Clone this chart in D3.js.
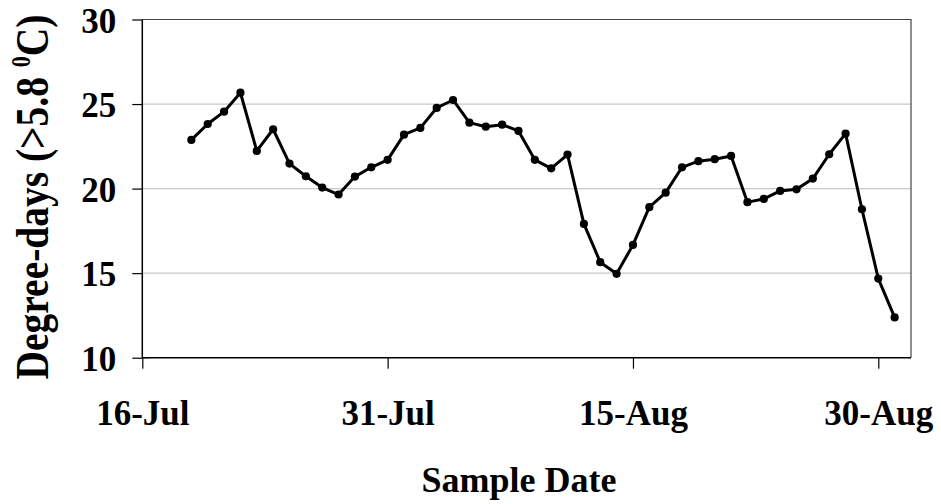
<!DOCTYPE html>
<html>
<head>
<meta charset="utf-8">
<script src="https://cdn.jsdelivr.net/npm/d3@7"></script>
<style>
	body { margin: 0; background: #fff; }
	svg text { font-family: "Liberation Serif", "Times New Roman", serif; font-weight: bold; fill: #000; }
</style>
</head>
<body>
<div id="chart"></div>
<script>
// Data: daily degree-days from 19-Jul to 31-Aug
const firstDate = new Date(2008, 6, 19);
const lastDate = new Date(2008, 8, 1); // exclusive
const degreeDays = [
	22.88, 23.82, 24.55, 25.67, 22.23, 23.51, 21.48, 20.73, 20.06, 19.65,
	20.71, 21.26, 21.70, 23.19, 23.59, 24.77, 25.24, 23.90, 23.66, 23.78,
	23.41, 21.70, 21.20, 22.01, 17.91, 15.65, 14.96, 16.67, 18.90, 19.76,
	21.26, 21.62, 21.74, 21.93, 19.20, 19.39, 19.86, 19.96, 20.59, 22.03,
	23.25, 18.78, 14.68, 12.38
];
const xTickDates = [new Date(2008, 6, 16), new Date(2008, 6, 31), new Date(2008, 7, 15), new Date(2008, 7, 30)];
const yTicks = [10, 15, 20, 25, 30];
const xDomain = [new Date(2008, 6, 16), new Date(2008, 8, 1)];
const yDomain = [10, 30];

const dates = d3.timeDay.range(firstDate, lastDate);
const data = dates.map((d, i) => [d, degreeDays[i]]);

// Size
const width = 941, height = 504;
const margin = { top: 19.5, right: 30, bottom: 146.3, left: 142.3 };
const plotW = width - margin.left - margin.right,
	plotH = height - margin.top - margin.bottom;

const svg = d3.select("#chart").append("svg")
	.attr("width", width).attr("height", height);

const scaleX = d3.scaleTime(xDomain, [0, plotW]);
const scaleY = d3.scaleLinear(yDomain, [plotH, 0]);

const chart = svg.append("g")
	.attr("transform", `translate(${margin.left}, ${margin.top})`);

// Gridlines
chart.append("g")
	.selectAll("line")
	.data(yTicks.filter(t => t > 10 && t < 30))
	.join("line")
	.attr("x1", 0).attr("x2", plotW)
	.attr("y1", d => scaleY(d)).attr("y2", d => scaleY(d))
	.attr("stroke", "#c8c8c8").attr("stroke-width", 1.2);

// Plot border (top / right)
chart.append("path")
	.attr("d", `M0,${scaleY(30)}H${plotW}V${plotH}`)
	.attr("fill", "none").attr("stroke", "#444").attr("stroke-width", 1.2);

// Axes
const axisY = chart.append("g")
	.call(d3.axisLeft(scaleY).tickValues(yTicks).tickSize(10).tickPadding(16));
const axisX = chart.append("g")
	.attr("transform", `translate(0, ${plotH})`)
	.call(d3.axisBottom(scaleX).tickValues(xTickDates).tickSize(11)
		.tickFormat(d3.timeFormat("%-d-%b")));

[axisX, axisY].forEach(a => {
	a.select(".domain").attr("stroke", "#000").attr("stroke-width", 1.5);
	a.selectAll(".tick line").attr("stroke", "#000").attr("stroke-width", 1.2);
	a.selectAll(".tick text").style("font-size", "35px").attr("font-family", null);
});
axisY.select(".domain").attr("d", `M0,0V${plotH}`);
axisX.select(".domain").attr("d", `M0,0H${plotW}`);
axisY.selectAll(".tick text").attr("dy", "0.36em");
axisX.selectAll(".tick text").attr("dy", 0).attr("y", 67);
// small inward stub at the 10 tick
chart.append("line")
	.attr("x1", 0).attr("x2", 7).attr("y1", plotH).attr("y2", plotH)
	.attr("stroke", "#000").attr("stroke-width", 1.2);

// Line and markers
const line = d3.line().x(d => scaleX(d[0])).y(d => scaleY(d[1]));
chart.append("path")
	.datum(data)
	.attr("d", line)
	.attr("fill", "none").attr("stroke", "#000").attr("stroke-width", 3)
	.attr("stroke-linejoin", "round");
chart.selectAll("circle.pt")
	.data(data)
	.join("circle")
	.classed("pt", true)
	.attr("cx", d => scaleX(d[0]))
	.attr("cy", d => scaleY(d[1]))
	.attr("r", 4.1)
	.attr("fill", "#000");

// Labels
svg.append("text")
	.attr("x", 519).attr("y", 492)
	.attr("text-anchor", "middle")
	.style("font-size", "36px")
	.text("Sample Date");

const labelY = svg.append("text")
	.attr("transform", "translate(48, 197) rotate(-90) scale(1, 1.2)")
	.attr("text-anchor", "middle")
	.style("font-size", "39.5px");
labelY.append("tspan").text("Degree-days (>5.8 ");
labelY.append("tspan").text("0").style("font-size", "22px").attr("dy", -15);
labelY.append("tspan").text("C)").attr("dy", 15);
</script>
</body>
</html>
